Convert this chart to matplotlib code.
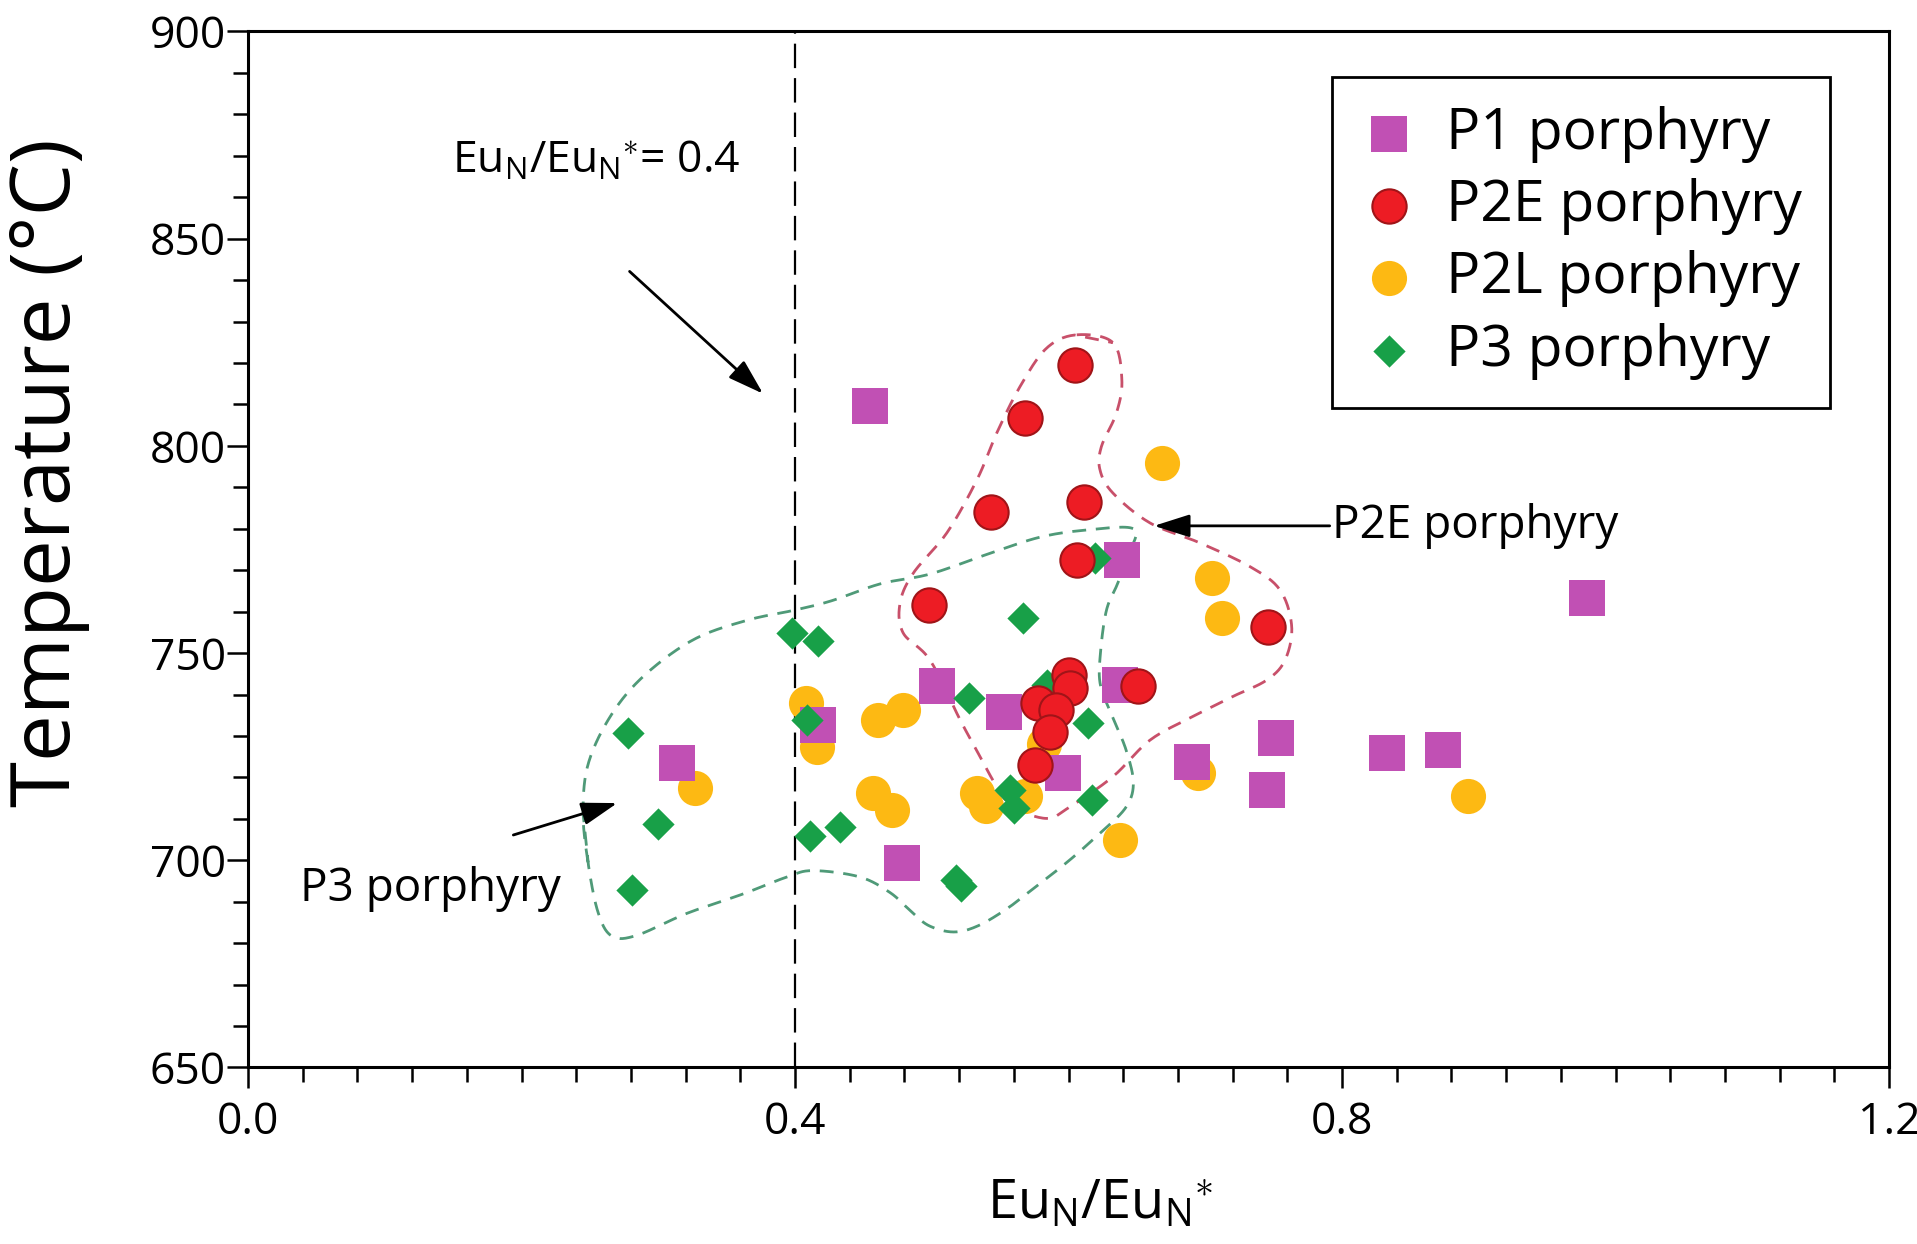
import numpy as np
import matplotlib
matplotlib.use('Agg')
import matplotlib.pyplot as plt
from matplotlib.ticker import MultipleLocator, FormatStrFormatter

plt.rcParams['font.family'] = ['Open Sans', 'DejaVu Sans']
plt.rcParams['mathtext.fontset'] = 'custom'
plt.rcParams['mathtext.rm'] = 'Open Sans'
plt.rcParams['mathtext.it'] = 'Open Sans'

# ---- data (Eu_N/Eu_N*, temperature in degC) ----
p1_eu = [0.455, 0.639, 0.979, 0.504, 0.553, 0.638, 0.417, 0.3135, 0.596,
         0.690, 0.752, 0.745, 0.833, 0.874, 0.478]
p1_t = [809.7, 772.5, 763.2, 742.0, 735.9, 742.2, 732.6, 723.4, 721.0,
        723.8, 729.4, 717.0, 725.8, 726.6, 699.3]

p2e_eu = [0.605, 0.568, 0.543, 0.611, 0.606, 0.498, 0.746, 0.600, 0.601,
          0.578, 0.591, 0.5865, 0.5755, 0.651]
p2e_t = [819.5, 806.7, 784.1, 786.5, 772.5, 761.6, 756.4, 744.7, 741.5,
         737.9, 736.3, 731.0, 723.0, 742.0]

p2l_eu = [0.668, 0.705, 0.712, 0.408, 0.416, 0.461, 0.479, 0.457, 0.471,
          0.533, 0.540, 0.568, 0.638, 0.695, 0.892, 0.327, 0.582]
p2l_t = [795.8, 768.0, 758.5, 737.9, 727.4, 733.9, 736.3, 716.2, 712.1,
         716.2, 713.0, 715.4, 705.0, 721.0, 715.4, 717.4, 728.0]

p3_eu = [0.278, 0.300, 0.281, 0.398, 0.417, 0.4085, 0.411, 0.433, 0.518,
         0.521, 0.527, 0.567, 0.584, 0.6145, 0.557, 0.560, 0.617, 0.619]
p3_t = [730.6, 708.8, 692.8, 754.8, 752.8, 733.9, 705.8, 708.0, 695.3,
        693.8, 739.1, 758.4, 742.3, 733.1, 716.9, 712.5, 714.6, 773.0]

# hand-drawn field outlines
p2e_field_eu = [0.606, 0.6325, 0.639, 0.635, 0.624, 0.623, 0.6325, 0.6596, 0.696,
                0.733, 0.7547, 0.7632, 0.7583, 0.745, 0.720, 0.691, 0.6596, 0.6325,
                0.601, 0.584, 0.5594, 0.5475, 0.5353, 0.5207, 0.4987, 0.479,
                0.4768, 0.4865, 0.511, 0.533, 0.5475, 0.5645, 0.584]
p2e_field_t = [826.8, 824.9, 815.9, 807.9, 799.8, 794.2, 788.6, 781.4, 776.6,
               770.8, 765.2, 756.4, 748.3, 743.5, 739.5, 734.7, 729.0, 720.2,
               712.9, 710.1, 712.9, 717.8, 725.0, 733.9, 748.3, 754.9,
               762.1, 769.3, 779.0, 791.8, 803.1, 814.3, 823.6]

p3_field_eu = [0.2486, 0.245, 0.2486, 0.2647, 0.2888, 0.3255, 0.3648, 0.3988,
               0.4265, 0.4623, 0.499, 0.5428, 0.5795, 0.6134, 0.6474, 0.645,
               0.6358, 0.6277, 0.6233, 0.6233, 0.6322, 0.642, 0.6474, 0.642,
               0.6233, 0.601, 0.5795, 0.5562, 0.5339, 0.516, 0.498, 0.4847,
               0.4695, 0.4471, 0.4131, 0.3943, 0.3622, 0.321, 0.2835, 0.2656,
               0.2557]
p3_field_t = [699.5, 711.3, 723.1, 734.6, 744.3, 753.2, 757.9, 760.3,
              762.6, 766.7, 769.1, 774.1, 778.0, 779.7, 780.0, 774.5,
              766.7, 760.3, 749.9, 742.3, 734.6, 726.7, 718.7, 712.8,
              706.6, 700.1, 694.5, 688.6, 684.2, 682.7, 684.2, 687.7,
              692.2, 696.0, 697.5, 696.0, 691.9, 687.2, 681.8, 681.8,
              687.7]

EU_LABEL = r'Eu$_{\mathrm{N}}$/Eu$_{\mathrm{N}}$$^{\ast}$'


def closed_curve(xs, ys, n=16):
    # periodic Catmull-Rom through the outline vertices
    p = np.column_stack([xs, ys])
    m = len(p)
    t = np.linspace(0, 1, n, endpoint=False)[:, None]
    out = []
    for i in range(m):
        p0, p1, p2, p3 = p[i - 1], p[i], p[(i + 1) % m], p[(i + 2) % m]
        out.append(0.5 * (2 * p1 + (-p0 + p2) * t
                          + (2 * p0 - 5 * p1 + 4 * p2 - p3) * t ** 2
                          + (-p0 + 3 * p1 - 3 * p2 + p3) * t ** 3))
    out = np.vstack(out + [p[1:2]])
    return out[:, 0], out[:, 1]


fig = plt.figure(figsize=(19.17, 12.44), dpi=100)
ax = fig.add_axes([0.1294, 0.1419, 0.9854 - 0.1294, 0.9747 - 0.1419])

cx, cy = closed_curve(p2e_field_eu, p2e_field_t)
ax.plot(cx, cy, color='#c8506a', lw=2.0, dashes=(5, 3.5), zorder=2)
cx, cy = closed_curve(p3_field_eu, p3_field_t)
ax.plot(cx, cy, color='#4f9a78', lw=2.0, dashes=(5, 3.5), zorder=2)

ax.axvline(0.4, color='black', lw=1.6, dashes=(11, 4.5), zorder=1)

ax.scatter(p2l_eu, p2l_t, s=640, marker='o', color='#fdb913', lw=0, zorder=3,
           label='P2L porphyry')
ax.scatter(p1_eu, p1_t, s=650, marker='s', color='#c150b4', lw=0, zorder=4,
           label='P1 porphyry')
ax.scatter(p3_eu, p3_t, s=270, marker='D', color='#18a048', lw=0, zorder=5,
           label='P3 porphyry')
ax.scatter(p2e_eu, p2e_t, s=610, marker='o', facecolor='#ed1c24',
           edgecolor='#a01418', lw=1.5, zorder=6, label='P2E porphyry')

ax.set_xlim(0, 1.2)
ax.set_ylim(650, 900)
ax.xaxis.set_major_locator(MultipleLocator(0.4))
ax.xaxis.set_minor_locator(MultipleLocator(0.04))
ax.yaxis.set_major_locator(MultipleLocator(50))
ax.yaxis.set_minor_locator(MultipleLocator(10))
ax.xaxis.set_major_formatter(FormatStrFormatter('%.1f'))
ax.tick_params(which='both', direction='out', width=1.8, top=False, right=False)
ax.tick_params(which='major', length=15, labelsize=32)
ax.tick_params(axis='y', which='major', pad=1)
ax.tick_params(axis='x', which='major', pad=9)
ax.tick_params(which='minor', length=11)
for s in ax.spines.values():
    s.set_linewidth(2.2)

# annotations
arrow = dict(arrowstyle='-|>,head_length=1.1,head_width=0.35', color='black',
             lw=2, mutation_scale=20, shrinkA=0, shrinkB=0)
ax.text(0.149, 868.5, EU_LABEL + '= 0.4', fontsize=32, ha='left', va='center')
ax.annotate('', xy=(0.3766, 812.6), xytext=(0.279, 842.1), arrowprops=arrow)
ax.annotate('P2E porphyry', xy=(0.6625, 780.7), xytext=(0.793, 780.7),
            fontsize=33, ha='left', va='center', arrowprops=arrow)
ax.annotate('', xy=(0.270, 713.8), xytext=(0.194, 706.1), arrowprops=arrow)
ax.text(0.0377, 693.1, 'P3 porphyry', fontsize=33, ha='left', va='center')

handles, labels = ax.get_legend_handles_labels()
order = [1, 3, 0, 2]
leg = ax.legend([handles[i] for i in order], [labels[i] for i in order],
                loc='upper right', bbox_to_anchor=(0.964, 0.956),
                fontsize=41, frameon=True, fancybox=False, framealpha=1,
                edgecolor='black', borderpad=0.5, labelspacing=0.27,
                handletextpad=0.5, handlelength=1.0, borderaxespad=0,
                scatterpoints=1)
leg.get_frame().set_linewidth(2)

fig.text(0.0256, 0.6198, 'Temperature (°C)', rotation=90, fontsize=60,
         ha='center', va='center')
fig.text(0.5738, 0.0322, EU_LABEL, fontsize=39, ha='center', va='center')

fig.savefig('out.png', dpi=100)
